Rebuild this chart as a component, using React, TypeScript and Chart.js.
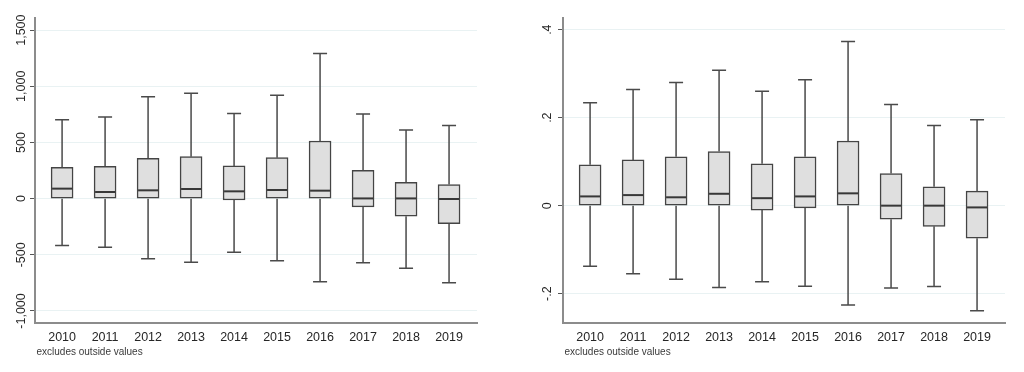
import React, { useEffect, useRef } from 'react';
import { Chart, registerables } from 'chart.js';

Chart.register(...registerables);

const years = ['2010', '2011', '2012', '2013', '2014', '2015', '2016', '2017', '2018', '2019'];

// Left panel (levels)
const valueLow = [-418, -433, -534, -567, -478, -552, -739, -570, -620, -748];
const valueQ1 = [0, 0, 0, 0, -12, 0, 0, -74, -157, -223];
const valueMedian = [89, 59, 74, 86, 65, 77, 71, 2, 2, -3];
const valueQ3 = [279, 288, 359, 374, 291, 365, 513, 252, 145, 125];
const valueHigh = [703, 727, 908, 938, 757, 920, 1291, 754, 611, 650];
const valueTicks = [-1000, -500, 0, 500, 1000, 1500];
const valueTickLabels = ['-1,000', '-500', '0', '500', '1,000', '1,500'];

// Right panel (ratios)
const ratioLow = [-0.138, -0.155, -0.167, -0.186, -0.173, -0.183, -0.226, -0.187, -0.184, -0.239];
const ratioQ1 = [0, 0, 0, 0, -0.01, -0.005, 0, -0.031, -0.047, -0.074];
const ratioMedian = [0.021, 0.024, 0.019, 0.027, 0.017, 0.021, 0.028, 0, 0, -0.004];
const ratioQ3 = [0.093, 0.104, 0.111, 0.123, 0.095, 0.111, 0.147, 0.073, 0.043, 0.033];
const ratioHigh = [0.234, 0.264, 0.28, 0.308, 0.26, 0.286, 0.373, 0.23, 0.182, 0.195];
const ratioTicks = [-0.2, 0, 0.2, 0.4];
const ratioTickLabels = ['-.2', '0', '.2', '.4'];

const noteText = 'excludes outside values';
const FONT = '"Liberation Sans", Arial, sans-serif';

type BoxProps = {
  low: number[];
  q1: number[];
  med: number[];
  q3: number[];
  high: number[];
  yMin: number;
  yMax: number;
  tickValues: number[];
  tickLabels: string[];
  axisWidth: number;
  padRight: number;
  labelOffset: number;
  left: number;
};

function BoxChart(p: BoxProps) {
  const ref = useRef<HTMLCanvasElement>(null);
  useEffect(() => {
    const BOX_W = 22;
    const CAP_W = 14;
    const boxPlugin = {
      id: 'boxWhiskers',
      afterDatasetsDraw(chart: any) {
        const { ctx } = chart;
        const xs = chart.scales.x;
        const ys = chart.scales.y;
        ctx.save();
        ctx.lineCap = 'butt';
        for (let i = 0; i < years.length; i++) {
          const cx = xs.getPixelForValue(i);
          const yHi = ys.getPixelForValue(p.high[i]);
          const yQ3 = ys.getPixelForValue(p.q3[i]);
          const yQ1 = ys.getPixelForValue(p.q1[i]);
          const yLo = ys.getPixelForValue(p.low[i]);
          const yMed = ys.getPixelForValue(p.med[i]);
          ctx.strokeStyle = '#4a4a4a';
          ctx.lineWidth = 1.5;
          ctx.beginPath();
          ctx.moveTo(cx, yQ3);
          ctx.lineTo(cx, yHi);
          ctx.moveTo(cx - CAP_W / 2, yHi);
          ctx.lineTo(cx + CAP_W / 2, yHi);
          ctx.moveTo(cx, yQ1);
          ctx.lineTo(cx, yLo);
          ctx.moveTo(cx - CAP_W / 2, yLo);
          ctx.lineTo(cx + CAP_W / 2, yLo);
          ctx.stroke();
          ctx.strokeStyle = '#383838';
          ctx.lineWidth = 2;
          ctx.beginPath();
          ctx.moveTo(cx - BOX_W / 2 + 1, yMed);
          ctx.lineTo(cx + BOX_W / 2 - 1, yMed);
          ctx.stroke();
        }
        ctx.restore();
      },
      afterDraw(chart: any) {
        const { ctx, chartArea } = chart;
        const ys = chart.scales.y;
        ctx.save();
        ctx.fillStyle = '#262626';
        ctx.font = `12.5px ${FONT}`;
        ctx.textAlign = 'center';
        ctx.textBaseline = 'middle';
        p.tickValues.forEach((v, i) => {
          const y = ys.getPixelForValue(v);
          ctx.save();
          ctx.translate(chartArea.left - p.labelOffset, y);
          ctx.rotate(-Math.PI / 2);
          ctx.fillText(p.tickLabels[i], 0, 0);
          ctx.restore();
        });
        ctx.fillStyle = '#3a3a3a';
        ctx.font = `10px ${FONT}`;
        ctx.textAlign = 'left';
        ctx.fillText(noteText, chartArea.left + 1.5, 352);
        ctx.restore();
      },
    };

    const chart = new Chart(ref.current as HTMLCanvasElement, {
      type: 'bar',
      data: {
        datasets: [
          {
            data: years.map((_, i) => ({ x: i, y: [p.q1[i], p.q3[i]] })) as any,
            backgroundColor: '#dfdfdf',
            borderColor: '#444444',
            borderWidth: 1.5,
            borderSkipped: false,
            barThickness: BOX_W,
          },
        ],
      },
      options: {
        responsive: false,
        animation: false,
        events: [],
        layout: { padding: { left: 0, right: p.padRight, top: 18, bottom: 19 } },
        plugins: { legend: { display: false }, tooltip: { enabled: false } },
        scales: {
          x: {
            type: 'linear',
            offset: false,
            min: -0.63,
            max: 9.65,
            afterBuildTicks: (s: any) => {
              s.ticks = years.map((_, i) => ({ value: i }));
            },
            afterFit: (s: any) => {
              s.height = 30;
            },
            ticks: {
              callback: (v: any) => years[Math.round(v)],
              color: '#262626',
              font: { family: FONT, size: 12.5 },
              padding: 7,
              autoSkip: false,
              maxRotation: 0,
              minRotation: 0,
            },
            grid: { display: false, drawTicks: false, offset: false },
            border: { display: true, color: '#8c8c8c', width: 2 },
          },
          y: {
            type: 'linear',
            min: p.yMin,
            max: p.yMax,
            afterBuildTicks: (s: any) => {
              s.ticks = p.tickValues.map((v) => ({ value: v }));
            },
            afterFit: (s: any) => {
              s.width = p.axisWidth;
            },
            ticks: { display: false },
            grid: {
              color: '#e9f2f3',
              lineWidth: 1,
              drawTicks: true,
              tickLength: 5,
              tickColor: '#555555',
            },
            border: { display: true, color: '#8c8c8c', width: 2 },
          },
        },
      } as any,
      plugins: [boxPlugin],
    });
    return () => chart.destroy();
  }, []);
  return (
    <canvas
      ref={ref}
      width={512}
      height={372}
      style={{ position: 'absolute', left: p.left, top: 0, width: 512, height: 372 }}
    />
  );
}

export default function App() {
  return (
    <div style={{ position: 'fixed', left: 0, top: 0, width: 1024, height: 372, background: '#ffffff', overflow: 'hidden' }}>
      <BoxChart
        low={valueLow}
        q1={valueQ1}
        med={valueMedian}
        q3={valueQ3}
        high={valueHigh}
        yMin={-1107}
        yMax={1608}
        tickValues={valueTicks}
        tickLabels={valueTickLabels}
        axisWidth={35}
        padRight={35}
        labelOffset={13}
        left={0}
      />
      <BoxChart
        low={ratioLow}
        q1={ratioQ1}
        med={ratioMedian}
        q3={ratioQ3}
        high={ratioHigh}
        yMin={-0.2667}
        yMax={0.4265}
        tickValues={ratioTicks}
        tickLabels={ratioTickLabels}
        axisWidth={51}
        padRight={19}
        labelOffset={15}
        left={512}
      />
    </div>
  );
}
